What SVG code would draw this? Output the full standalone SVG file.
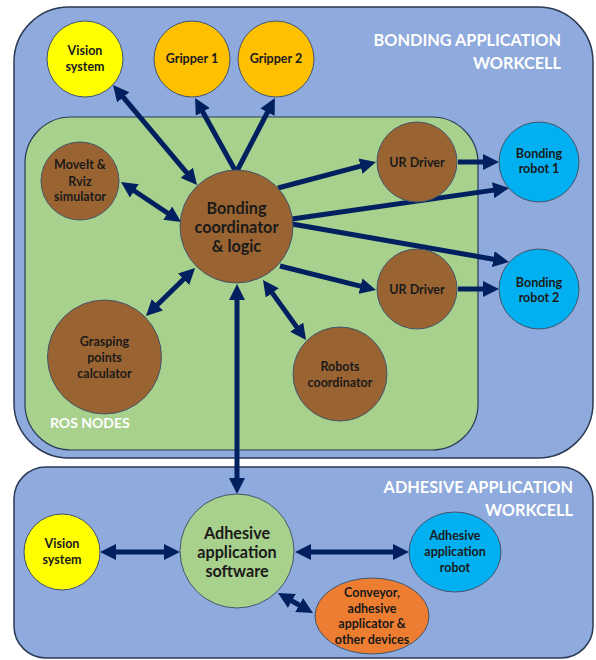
<svg xmlns="http://www.w3.org/2000/svg" width="596" height="660" viewBox="0 0 596 660">
<defs>
<marker id="ah" viewBox="0 0 16 16" markerWidth="16" markerHeight="16" refX="6" refY="8" orient="auto-start-reverse" markerUnits="userSpaceOnUse">
<path d="M0,0 L16,8 L0,16 z" fill="#002060"/>
</marker>
<style>
.cell{fill:#8faadc;stroke:#2b3a55;stroke-width:1.5}
.ros{fill:#a9d18e;stroke:#2b3a55;stroke-width:1.2}
.n{stroke:#44546a;stroke-width:1}
.brown{fill:#9a6432}
.yellow{fill:#ffff00}
.grip{fill:#ffc000}
.robot{fill:#00b0f0}
.green{fill:#a9d18e}
.orange{fill:#ed7d31}
text{font-family:Lato,"Open Sans","Liberation Sans",sans-serif;font-weight:bold;text-anchor:middle;fill:#1a1a1a}
.s{font-size:12.5px}
.b{font-size:16.2px}
.title{font-size:16.3px;fill:#ffffff;text-anchor:end}
.lbl{font-size:14px;fill:#ffffff;text-anchor:start}
.c line{stroke:#002060;stroke-width:5}
</style>
</defs>

<g id="bonding-workcell">
<rect class="cell" x="14" y="7" width="579" height="451" rx="55" ry="55"/>
<text class="title" x="561" y="46">BONDING APPLICATION</text>
<text class="title" x="561" y="69">WORKCELL</text>
</g>
<g id="ros-nodes">
<rect class="ros" x="25" y="117" width="453" height="333" rx="46" ry="46"/>
<text class="lbl" x="50" y="428">ROS NODES</text>
</g>
<g id="adhesive-workcell">
<rect class="cell" x="14" y="467" width="579" height="191" rx="32" ry="32"/>
<text class="title" x="573" y="493">ADHESIVE APPLICATION</text>
<text class="title" x="573" y="516">WORKCELL</text>
</g>

<g id="connectors" class="c">
<line x1="119.4" y1="92.7" x2="190.6" y2="177.3" marker-start="url(#ah)" marker-end="url(#ah)"/>
<line x1="236" y1="172" x2="199.9" y2="106.7" marker-end="url(#ah)"/>
<line x1="237" y1="171" x2="270.3" y2="106.9" marker-end="url(#ah)"/>
<line x1="129.3" y1="187.5" x2="172.7" y2="216.5" marker-start="url(#ah)" marker-end="url(#ah)"/>
<line x1="278" y1="188" x2="366.3" y2="164.6" marker-end="url(#ah)"/>
<line x1="458" y1="162" x2="489" y2="162" marker-end="url(#ah)"/>
<line x1="292" y1="219" x2="499.1" y2="189.4" marker-end="url(#ah)"/>
<line x1="292" y1="224" x2="499.2" y2="260.2" marker-end="url(#ah)"/>
<line x1="280" y1="266" x2="366.3" y2="287.6" marker-end="url(#ah)"/>
<line x1="458" y1="289" x2="489" y2="289" marker-end="url(#ah)"/>
<line x1="153.1" y1="309" x2="187.9" y2="275" marker-start="url(#ah)" marker-end="url(#ah)"/>
<line x1="268.8" y1="288.1" x2="300.2" y2="331.9" marker-start="url(#ah)" marker-end="url(#ah)"/>
<line x1="237" y1="294" x2="237" y2="484" marker-start="url(#ah)" marker-end="url(#ah)"/>
<line x1="110" y1="552" x2="170" y2="552" marker-start="url(#ah)" marker-end="url(#ah)"/>
<line x1="305" y1="552" x2="399" y2="552" marker-start="url(#ah)" marker-end="url(#ah)"/>
<line x1="286.7" y1="598" x2="304.3" y2="608" marker-start="url(#ah)" marker-end="url(#ah)"/>
</g>

<g id="vision-top">
<circle class="n yellow" cx="85" cy="59" r="38"/>
<text class="s" x="85" y="54.5">Vision</text>
<text class="s" x="85" y="70.5">system</text>
</g>
<g id="gripper1">
<circle class="n grip" cx="192" cy="59" r="38"/>
<text class="s" x="192" y="62.5">Gripper 1</text>
</g>
<g id="gripper2">
<circle class="n grip" cx="276" cy="59" r="38"/>
<text class="s" x="276" y="62.5">Gripper 2</text>
</g>
<g id="moveit">
<circle class="n brown" cx="80" cy="181" r="39"/>
<text class="s" x="80" y="169">MoveIt &amp;</text>
<text class="s" x="80" y="186">Rviz</text>
<text class="s" x="80" y="201">simulator</text>
</g>
<g id="coordinator">
<circle class="n brown" cx="236.5" cy="226.5" r="56.5"/>
<text class="b" x="236.5" y="214">Bonding</text>
<text class="b" x="236.5" y="233">coordinator</text>
<text class="b" x="236.5" y="252">&amp; logic</text>
</g>
<g id="ur-driver1">
<circle class="n brown" cx="417" cy="162" r="40"/>
<text class="s" x="417" y="166.5">UR Driver</text>
</g>
<g id="bonding-robot1">
<circle class="n robot" cx="539" cy="162" r="40"/>
<text class="s" x="539" y="157.5">Bonding</text>
<text class="s" x="539" y="173">robot 1</text>
</g>
<g id="ur-driver2">
<circle class="n brown" cx="417" cy="289" r="40"/>
<text class="s" x="417" y="293.5">UR Driver</text>
</g>
<g id="bonding-robot2">
<circle class="n robot" cx="539" cy="289" r="40"/>
<text class="s" x="539" y="286.5">Bonding</text>
<text class="s" x="539" y="302">robot 2</text>
</g>
<g id="grasping">
<circle class="n brown" cx="104.5" cy="357" r="57"/>
<text class="s" x="104.5" y="346">Grasping</text>
<text class="s" x="104.5" y="362">points</text>
<text class="s" x="104.5" y="378">calculator</text>
</g>
<g id="robots-coordinator">
<circle class="n brown" cx="340" cy="374" r="47"/>
<text class="s" x="340" y="370.5">Robots</text>
<text class="s" x="340" y="386.5">coordinator</text>
</g>
<g id="vision-bottom">
<circle class="n yellow" cx="62" cy="552" r="38"/>
<text class="s" x="62" y="547.5">Vision</text>
<text class="s" x="62" y="563.5">system</text>
</g>
<g id="adhesive-software">
<circle class="n green" cx="237" cy="551" r="57"/>
<text class="b" x="237" y="538.5">Adhesive</text>
<text class="b" x="237" y="557.5">application</text>
<text class="b" x="237" y="576.5">software</text>
</g>
<g id="adhesive-robot">
<ellipse class="n robot" cx="455" cy="552" rx="46" ry="40"/>
<text class="s" x="455" y="540">Adhesive</text>
<text class="s" x="455" y="556">application</text>
<text class="s" x="455" y="571.5">robot</text>
</g>
<g id="conveyor">
<ellipse class="n orange" cx="372" cy="616" rx="57" ry="38"/>
<text class="s" x="372" y="597">Conveyor,</text>
<text class="s" x="372" y="612.5">adhesive</text>
<text class="s" x="372" y="628">applicator  &amp;</text>
<text class="s" x="372" y="644">other devices</text>
</g>
</svg>
